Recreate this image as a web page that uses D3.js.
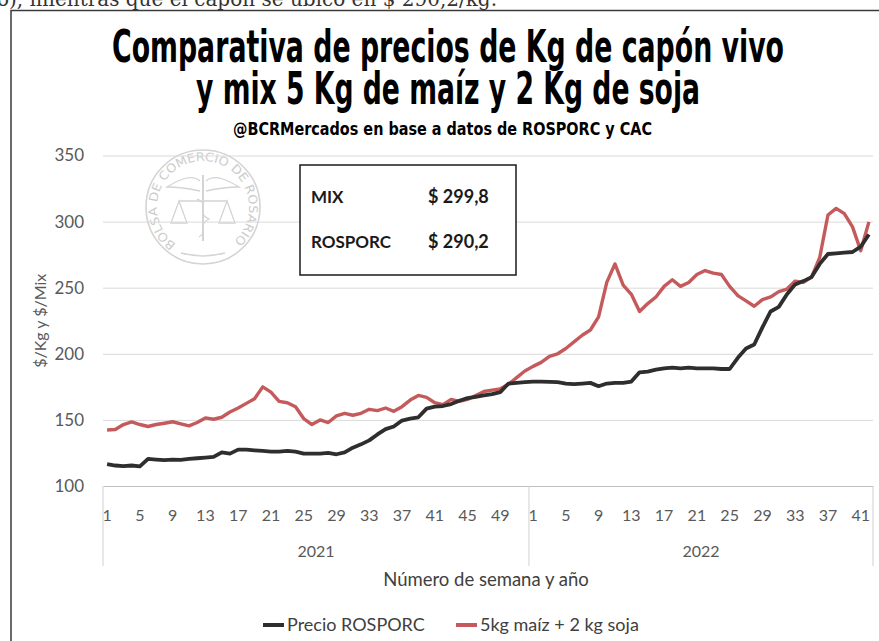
<!DOCTYPE html>
<html>
<head>
<meta charset="utf-8">
<script src="https://cdn.jsdelivr.net/npm/d3@7"></script>
<style>
body { margin: 0; background: #fff; }
svg { display: block; }
</style>
</head>
<body>
<div id="chart"></div>
<script>
// weekly data
var years = ["2021", "2022"];
var weeks2021 = d3.range(1, 53);
var weeks2022 = d3.range(1, 43);

var rosporc2021 = [116.5, 115.5, 115, 115.5, 114.8, 120.5, 120, 119.5, 120, 119.8,
    120.5, 121, 121.5, 122, 125.5, 124.5, 127.5, 127.5, 127, 126.5,
    126, 126, 126.5, 126, 124.5, 124.5, 124.5, 125, 124, 125.5,
    129, 131.5, 134.5, 139, 143, 145, 149.5, 151, 152, 158.5,
    160, 160.5, 162, 164.5, 166.5, 167.5, 168.5, 169.5, 171, 177.5,
    178, 178.5];
var rosporc2022 = [179, 179, 178.8, 178.5, 177.5, 177, 177.5, 178, 175.5, 177.5,
    178, 178, 179, 186, 186.5, 188, 189, 189.5, 189, 189.5,
    189, 189, 189, 188.5, 188.5, 197, 204, 207, 220, 232,
    235.5, 245, 252.5, 255, 258, 268, 275.5, 276, 276.5, 277,
    281, 290.2];
var mix2021 = [142.4, 142.7, 146.5, 148.5, 146.5, 145, 146.5, 147.5, 148.6, 147,
    145.5, 148, 151.5, 150.5, 152, 156, 159, 162.5, 166, 175,
    171, 164, 163, 160, 151, 146.5, 150, 148, 153, 155,
    153.5, 155, 158, 157, 159, 156.5, 160, 165, 168.5, 167,
    163, 161.5, 165.5, 164, 165.5, 168.5, 171.5, 172.5, 173.5, 177,
    182, 187];
var mix2022 = [190.5, 193.5, 198, 200, 204, 209, 214, 218, 228, 254,
    268, 252, 245, 232, 238, 243, 251, 256, 251, 254,
    260, 263, 261, 260, 251, 244, 240, 236, 241, 243,
    247, 249, 255, 254, 258, 273, 305, 310, 306, 296,
    278, 299.8];

var yTicks = [100, 150, 200, 250, 300, 350];
var boxLabels = ["MIX", "ROSPORC"];
var boxValues = ["$ 299,8", "$ 290,2"];
var seriesNames = ["Precio ROSPORC", "5kg maíz + 2 kg soja"];

// categories = (year, week) pairs
var cats = weeks2021.map(function (w) { return {year: years[0], week: w}; })
    .concat(weeks2022.map(function (w) { return {year: years[1], week: w}; }));
var rosporc = rosporc2021.concat(rosporc2022);
var mix = mix2021.concat(mix2022);

var width = 879,
    height = 641,
    plotLeft = 103,
    plotRight = 873,
    plotTop = 155.5,
    plotBottom = 486;

var svg = d3.select("#chart").append("svg")
    .attr("width", width)
    .attr("height", height);

var fontBody = "Lato, 'Open Sans', sans-serif";
var fontTitle = "'Liberation Sans Narrow', 'DejaVu Sans Condensed', sans-serif";

// text of the article above, cut by the crop
svg.append("text")
    .attr("x", -3)
    .attr("y", 6)
    .style("font-family", "'DejaVu Serif', serif")
    .style("font-size", "20px")
    .style("fill", "#333")
    .text("o), mientras que el capón se ubicó en $ 290,2/kg.");

// frame
svg.append("path")
    .attr("d", "M11,641 V10.5 H879")
    .attr("fill", "none")
    .attr("stroke", "#3a3a3a")
    .attr("stroke-width", 1.5);

// titles (condensed look: small font stretched vertically)
var titles = [
    {t: "Comparativa de precios de Kg de capón vivo", x: 112, y: 62, len: 672, size: 30, sy: 1.46},
    {t: "y mix 5 Kg de maíz y 2 Kg de soja", x: 196, y: 104, len: 504, size: 30, sy: 1.46},
    {t: "@BCRMercados en base a datos de ROSPORC y CAC", x: 233, y: 135, len: 419, size: 15, sy: 1.12}
];
svg.selectAll(".title")
    .data(titles)
    .enter().append("text")
    .attr("class", "title")
    .attr("transform", function (d) { return "translate(" + d.x + "," + d.y + ") scale(1," + d.sy + ")"; })
    .attr("textLength", function (d) { return d.len; })
    .attr("lengthAdjust", "spacingAndGlyphs")
    .style("font-family", fontTitle)
    .style("font-weight", "bold")
    .style("font-size", function (d) { return d.size + "px"; })
    .style("fill", "#000")
    .text(function (d) { return d.t; });

var x = d3.scaleBand()
    .domain(d3.range(cats.length))
    .range([plotLeft, plotRight]);
var bw = x.bandwidth();

var y = d3.scaleLinear()
    .domain([100, 350])
    .range([plotBottom, plotTop]);

// watermark (Bolsa de Comercio de Rosario seal)
var wm = svg.append("g").attr("transform", "translate(203,207)")
    .style("fill", "none").style("stroke", "#d4d4d4");
wm.append("circle").attr("r", 57).attr("stroke-width", 1.6);
var r = 46, a0 = 234 * Math.PI / 180, a1 = -54 * Math.PI / 180;
svg.append("defs").append("path")
    .attr("id", "sealArc")
    .attr("d", "M" + (203 + r * Math.cos(a0)) + "," + (207 - r * Math.sin(a0)) +
        " A" + r + "," + r + " 0 1,1 " + (203 + r * Math.cos(a1)) + "," + (207 - r * Math.sin(a1)));
svg.append("text")
    .style("font-family", "'DejaVu Sans', sans-serif")
    .style("font-size", "12px")
    .style("fill", "#cccccc")
    .append("textPath")
    .attr("href", "#sealArc")
    .attr("textLength", 226)
    .attr("lengthAdjust", "spacingAndGlyphs")
    .text("BOLSA DE COMERCIO DE ROSARIO");
wm.append("path").attr("d", "M0,-32 V34").attr("stroke-width", 2);
wm.append("path").attr("d", "M-3,-26 C-12,-34 -26,-26 -36,-20 C-24,-20 -12,-18 -3,-16").attr("stroke-width", 1.3);
wm.append("path").attr("d", "M3,-26 C12,-34 26,-26 36,-20 C24,-20 12,-18 3,-16").attr("stroke-width", 1.3);
wm.append("path").attr("d", "M-6,-8 C8,-2 -8,6 6,12 C-6,18 6,24 -4,30").attr("stroke-width", 1.3);
wm.append("path").attr("d", "M-24,-6 H24 M-24,-6 L-32,16 H-16 Z M24,-6 L16,16 H32 Z").attr("stroke-width", 1.3);
wm.append("path").attr("d", "M-22,46 Q0,52 22,46").attr("stroke-width", 1.3);

// gridlines
svg.append("g")
    .attr("class", "grid")
    .attr("transform", "translate(" + plotLeft + ",0)")
    .call(d3.axisLeft(y).tickValues(yTicks.slice(1)).tickSize(-(plotRight - plotLeft)).tickFormat(""))
    .call(function (g) { g.select(".domain").remove(); })
    .selectAll("line")
    .attr("stroke", "#d9d9d9");

// y axis labels
svg.append("g")
    .attr("transform", "translate(" + plotLeft + ",0)")
    .call(d3.axisLeft(y).tickValues(yTicks).tickSize(0).tickPadding(19))
    .call(function (g) { g.select(".domain").remove(); })
    .selectAll("text")
    .style("font-family", fontBody)
    .style("font-size", "17px")
    .style("fill", "#595959");

svg.append("text")
    .attr("transform", "translate(46," + ((plotTop + plotBottom) / 2) + ") rotate(-90)")
    .attr("text-anchor", "middle")
    .style("font-family", fontBody)
    .style("font-size", "16px")
    .style("fill", "#595959")
    .text("$/Kg y $/Mix");

// category axis
svg.append("g")
    .attr("transform", "translate(0," + plotBottom + ")")
    .call(d3.axisBottom(x)
        .tickValues(d3.range(cats.length).filter(function (i) { return cats[i].week % 4 === 1; }))
        .tickFormat(function (i) { return cats[i].week; })
        .tickSize(0)
        .tickPadding(24))
    .call(function (g) { g.select(".domain").attr("stroke", "#bfbfbf"); })
    .selectAll("text")
    .style("font-family", fontBody)
    .style("font-size", "16px")
    .style("fill", "#595959");

// year groups
var bounds = [0, weeks2021.length, cats.length];
svg.selectAll(".sep")
    .data(bounds)
    .enter().append("line")
    .attr("class", "sep")
    .attr("x1", function (i) { return i < cats.length ? x(i) : x(i - 1) + bw; })
    .attr("x2", function (i) { return i < cats.length ? x(i) : x(i - 1) + bw; })
    .attr("y1", plotBottom)
    .attr("y2", 566)
    .attr("stroke", "#d0d0d0");

svg.selectAll(".year")
    .data(years)
    .enter().append("text")
    .attr("class", "year")
    .attr("x", function (d, k) { return (x(bounds[k]) + x(bounds[k + 1] - 1) + bw) / 2; })
    .attr("y", 557)
    .attr("text-anchor", "middle")
    .style("font-family", fontBody)
    .style("font-size", "16px")
    .style("fill", "#595959")
    .text(function (d) { return d; });

svg.append("text")
    .attr("x", 486)
    .attr("y", 586)
    .attr("text-anchor", "middle")
    .style("font-family", fontBody)
    .style("font-size", "18.5px")
    .style("fill", "#404040")
    .text("Número de semana y año");

// value box
svg.append("rect")
    .attr("x", 300).attr("y", 165)
    .attr("width", 216).attr("height", 110)
    .attr("fill", "#fff")
    .attr("stroke", "#1a1a1a")
    .attr("stroke-width", 1.5);
boxLabels.forEach(function (lab, k) {
    var ty = 203 + k * 45;
    svg.append("text").attr("x", 311).attr("y", ty)
        .style("font-family", fontBody).style("font-weight", "bold")
        .style("font-size", "17px").style("fill", "#1a1a1a")
        .text(lab);
    svg.append("text").attr("x", 428).attr("y", ty)
        .style("font-family", fontBody).style("font-weight", "bold")
        .style("font-size", "18px").style("fill", "#1a1a1a")
        .text(boxValues[k]);
});

// lines
var line = d3.line()
    .x(function (d, i) { return x(i) + bw / 2; })
    .y(function (d) { return y(d); });

var colors = ["#2e2e2e", "#c55a5c"];
svg.append("path")
    .datum(mix)
    .attr("d", line)
    .attr("fill", "none")
    .attr("stroke", colors[1])
    .attr("stroke-width", 3.4)
    .attr("stroke-linejoin", "round");
svg.append("path")
    .datum(rosporc)
    .attr("d", line)
    .attr("fill", "none")
    .attr("stroke", colors[0])
    .attr("stroke-width", 3.8)
    .attr("stroke-linejoin", "round");

// legend
var legend = svg.selectAll(".legend")
    .data(seriesNames)
    .enter().append("g")
    .attr("class", "legend")
    .attr("transform", function (d, k) { return "translate(" + [263, 456][k] + ",625)"; });
legend.append("line")
    .attr("x1", 0).attr("x2", 21)
    .attr("stroke", function (d, k) { return colors[k]; })
    .attr("stroke-width", 4);
legend.append("text")
    .attr("x", 24)
    .attr("dy", "0.35em")
    .style("font-family", fontBody)
    .style("font-size", "18px")
    .style("fill", "#404040")
    .text(function (d) { return d; });
</script>
</body>
</html>
